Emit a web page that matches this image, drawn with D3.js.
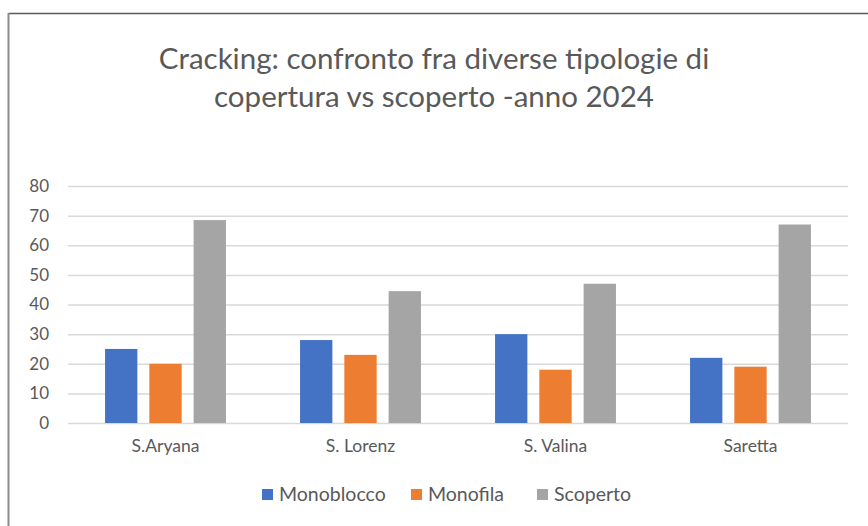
<!DOCTYPE html>
<html>
<head>
<meta charset="utf-8">
<script src="https://cdn.jsdelivr.net/npm/d3@7"></script>
<style>
  html, body { margin: 0; padding: 0; background: #fff; }
  svg { display: block; }
  text { font-family: Lato, "Open Sans", sans-serif; fill: #595959; }
</style>
</head>
<body>
<svg id="chart" width="868" height="526"></svg>
<script>
// Chart data
const categories = ["S.Aryana", "S. Lorenz", "S. Valina", "Saretta"];
const seriesNames = ["Monoblocco", "Monofila", "Scoperto"];
const monoblocco = [25, 28, 30, 22];
const monofila = [20, 23, 18, 19];
const scoperto = [68.5, 44.5, 47, 67];
const yTicks = [0, 10, 20, 30, 40, 50, 60, 70, 80];
const titleLines = ["Cracking: confronto fra diverse tipologie di", "copertura vs scoperto -anno 2024"];

const seriesValues = [monoblocco, monofila, scoperto];
const colors = ["#4472C4", "#ED7D31", "#A5A5A5"];

const svg = d3.select("#chart");

// Outer frame (top and left edges visible)
svg.append("line").attr("x1", 8.5).attr("x2", 868).attr("y1", 13.5).attr("y2", 13.5)
  .attr("stroke", "#595959").attr("stroke-width", 1.5);
svg.append("line").attr("x1", 8.5).attr("x2", 8.5).attr("y1", 13).attr("y2", 526)
  .attr("stroke", "#8c8c8c").attr("stroke-width", 2);

const plotLeft = 68, plotRight = 848, plotTop = 186, plotBottom = 423;

const x0 = d3.scaleBand().domain(categories).range([plotLeft, plotRight]).paddingInner(0.38).paddingOuter(0.19);
const x1 = d3.scaleBand().domain(seriesNames).range([0, x0.bandwidth()]).paddingInner(0.27);
const y = d3.scaleLinear().domain([0, 80]).range([plotBottom, plotTop]);

// Gridlines and value labels
const yAxis = d3.axisLeft(y).tickValues(yTicks).tickSize(-(plotRight - plotLeft)).tickPadding(19);
const gy = svg.append("g").attr("transform", `translate(${plotLeft},0)`).call(yAxis);
gy.select(".domain").remove();
gy.selectAll(".tick line").attr("stroke", "#d9d9d9").attr("stroke-width", 1.5);
gy.selectAll(".tick text").style("font-size", "17px").attr("fill", "#595959");

// Bars
const groups = svg.append("g").selectAll("g").data(categories).join("g")
  .attr("transform", d => `translate(${x0(d)},0)`);
groups.selectAll("rect")
  .data((c, i) => seriesNames.map((s, k) => ({ s, k, v: seriesValues[k][i] })))
  .join("rect")
  .attr("x", d => x1(d.s))
  .attr("width", x1.bandwidth())
  .attr("y", d => y(d.v))
  .attr("height", d => y(0) - y(d.v))
  .attr("fill", d => colors[d.k]);

// Category labels
const xAxis = d3.axisBottom(x0).tickSize(0).tickPadding(17);
const gx = svg.append("g").attr("transform", `translate(0,${plotBottom})`).call(xAxis);
gx.select(".domain").remove();
gx.selectAll(".tick text").style("font-size", "17.5px").attr("fill", "#595959");

// Title
svg.append("g").selectAll("text").data(titleLines).join("text")
  .attr("x", 434)
  .attr("y", (d, i) => 69 + i * 38)
  .attr("text-anchor", "middle")
  .style("font-size", "29.5px")
  .text(d => d);

// Legend
const legendPos = [262, 411, 537];
const legend = svg.append("g").selectAll("g").data(seriesNames).join("g")
  .attr("transform", (d, i) => `translate(${legendPos[i]},494)`);
legend.append("rect").attr("x", 0).attr("y", -5).attr("width", 11).attr("height", 11)
  .attr("fill", (d, i) => colors[i]);
legend.append("text").attr("x", 17).attr("y", 7).style("font-size", "19.5px").text(d => d);
</script>
</body>
</html>
